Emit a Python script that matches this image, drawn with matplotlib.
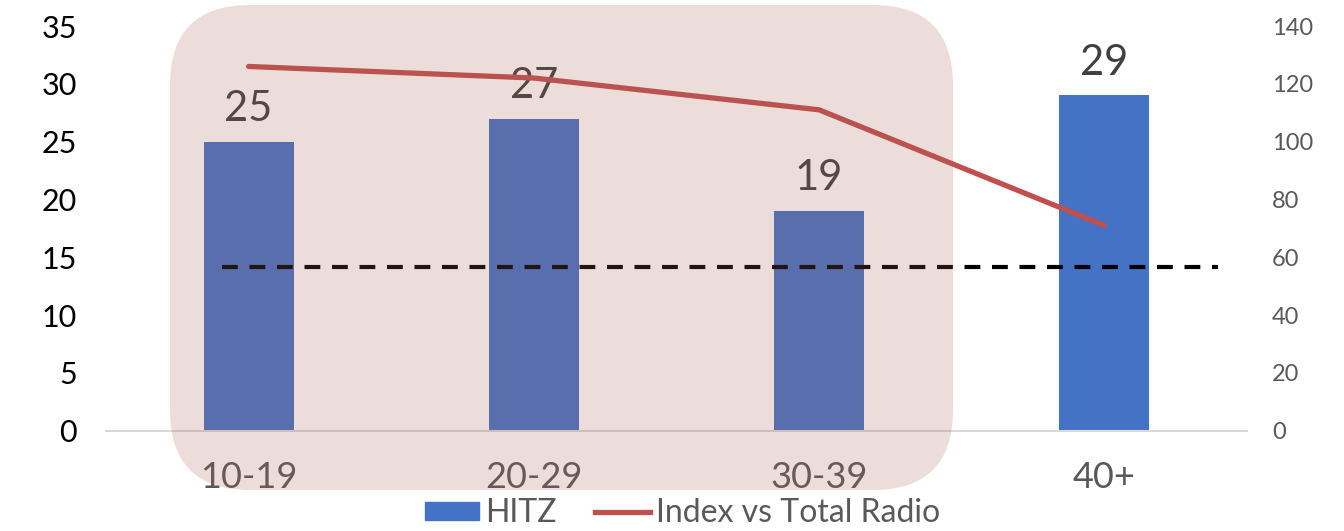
import matplotlib
matplotlib.use("Agg")
import matplotlib.pyplot as plt
from matplotlib.patches import FancyBboxPatch, Patch
from matplotlib.lines import Line2D

# chart data
age_groups = ["10-19", "20-29", "30-39", "40+"]
hitz_share = [25, 27, 19, 29]
index_vs_radio = [126, 122, 111, 71]
reference_level = 14.2  # dashed reference, left axis

BAR_BLUE = "#4472C4"
LINE_RED = "#C0504D"
GREY_TXT = "#595959"

plt.rcParams["font.family"] = ["Lato", "DejaVu Sans"]

W, H = 1344, 531
fig = plt.figure(figsize=(W / 100, H / 100), dpi=100)
ax = fig.add_axes([106 / W, 1 - 430.7 / H, (1247 - 106) / W, (430.7 - 26) / H])
ax2 = ax.twinx()

x = list(range(len(age_groups)))
ax.bar(x, hitz_share, width=0.315, color=BAR_BLUE, zorder=2)
for xi, val in zip(x, hitz_share):
    ax.text(xi, val + 1.2, f"{val}", ha="center", va="bottom",
            fontsize=30, color="#404040")

# dashed reference line
ax.plot([-0.095, 3.40], [reference_level, reference_level], color="black",
        lw=3.0, dashes=(3.8, 2.8), zorder=3)

ax2.plot(x, index_vs_radio, color=LINE_RED, lw=3.8, solid_capstyle="round",
         zorder=4)

ax.set_xlim(-0.5, 3.5)
ax.set_ylim(0, 35)
ax.set_yticks(range(0, 36, 5))
ax2.set_ylim(0, 140)
ax2.set_yticks(range(0, 141, 20))

ax.set_xticks(x)
ax.set_xticklabels(age_groups, fontsize=26, color=GREY_TXT)
ax.tick_params(axis="x", length=0, pad=22)
ax.tick_params(axis="y", length=0, labelsize=22, labelcolor="black", pad=21)
ax2.tick_params(axis="y", length=0, labelsize=17, labelcolor=GREY_TXT, pad=18)

for a in (ax, ax2):
    for side in ("top", "left", "right", "bottom"):
        a.spines[side].set_visible(False)
ax.spines["bottom"].set_visible(True)
ax.spines["bottom"].set_color("#D9D9D9")
ax.spines["bottom"].set_linewidth(1.5)

# legend
handles = [Patch(color=BAR_BLUE, label="HITZ"),
           Line2D([], [], color=LINE_RED, lw=3.8, label="Index vs Total Radio")]
fig.legend(handles=handles, loc="center", ncol=2, frameon=False,
           fontsize=23, labelcolor=GREY_TXT,
           bbox_to_anchor=((428 + 937) / 2 / W, 1 - 513 / H),
           handlelength=1.7, handleheight=0.5, handletextpad=0.2,
           columnspacing=1.2, borderpad=0)

# highlight box over the first three age groups
r = 80 / W
box = FancyBboxPatch((170 / W, 1 - 490 / H), (953 - 170) / W, (490 - 5) / H,
                     boxstyle=f"round,pad=0,rounding_size={r}",
                     mutation_aspect=W / H, transform=fig.transFigure,
                     facecolor=(0.66, 0.38, 0.35), alpha=0.21, edgecolor="none",
                     zorder=5)
fig.patches.append(box)

fig.savefig("out.png", dpi=100)
